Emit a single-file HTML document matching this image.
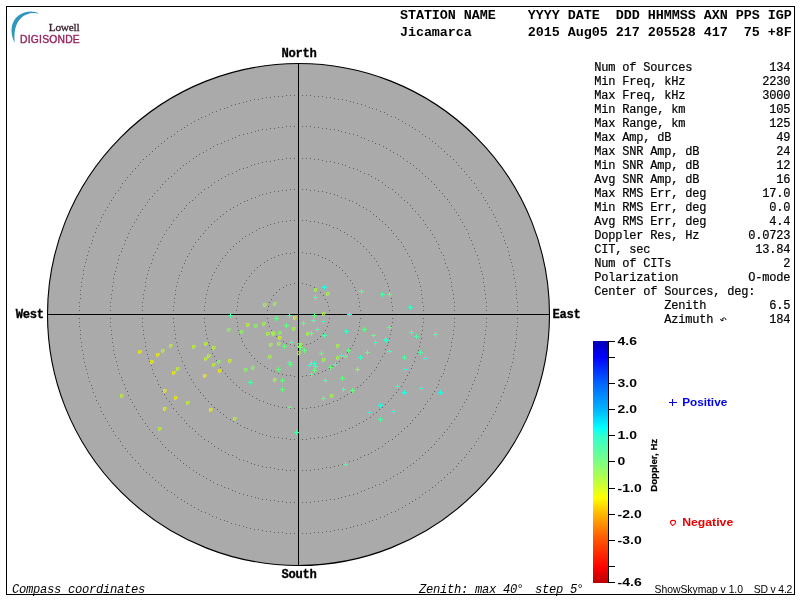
<!DOCTYPE html>
<html><head><meta charset="utf-8"><title>Skymap</title>
<style>
html,body{margin:0;padding:0;background:#fff;}
body{width:800px;height:600px;overflow:hidden;position:relative;}
svg{position:absolute;left:0;top:0;display:block;will-change:transform;}
text{white-space:pre;}
.hb{font-family:"Liberation Mono",monospace;font-weight:bold;font-size:13.4px;letter-spacing:-0.04px;fill:#000;}
.tb{font-family:"Liberation Mono",monospace;font-size:12px;letter-spacing:-0.2px;fill:#000;stroke:#000;stroke-width:0.2px;}
.cb{font-family:"Liberation Mono",monospace;font-weight:bold;font-size:12.2px;letter-spacing:-0.32px;fill:#000;stroke:#000;stroke-width:0.3px;}
.it{font-family:"Liberation Mono",monospace;font-style:italic;font-size:12.2px;letter-spacing:-0.32px;fill:#000;}
.sb{font-family:"Liberation Sans",sans-serif;font-weight:bold;font-size:11px;fill:#000;}
.lg{font-family:"Liberation Sans",sans-serif;font-weight:bold;font-size:10.1px;}
.sm{font-family:"Liberation Sans",sans-serif;font-size:10.4px;fill:#000;}
.dp{font-family:"Liberation Sans",sans-serif;font-weight:bold;font-size:9.1px;fill:#000;stroke:#000;stroke-width:0.25px;}
</style></head><body>
<svg width="800" height="600" viewBox="0 0 800 600">
<defs><linearGradient id="cbar" x1="0" y1="0" x2="0" y2="1">
<stop offset="0.0000" stop-color="#0000b4"/>
<stop offset="0.0652" stop-color="#0000fc"/>
<stop offset="0.1739" stop-color="#0064ff"/>
<stop offset="0.2826" stop-color="#00b4ff"/>
<stop offset="0.3587" stop-color="#00ffff"/>
<stop offset="0.3913" stop-color="#30ffd0"/>
<stop offset="0.5000" stop-color="#7cff82"/>
<stop offset="0.6087" stop-color="#d8ff28"/>
<stop offset="0.6467" stop-color="#ffff00"/>
<stop offset="0.7174" stop-color="#ffb400"/>
<stop offset="0.8261" stop-color="#ff5000"/>
<stop offset="0.9348" stop-color="#ff0000"/>
<stop offset="1.0000" stop-color="#bc0000"/>
</linearGradient></defs>
<rect x="6.5" y="6.5" width="788" height="588" fill="#fff" stroke="#000" stroke-width="1" shape-rendering="crispEdges"/>
<circle cx="298.5" cy="314.5" r="251" fill="#aaaaaa" stroke="#000" stroke-width="1.1"/>
<path d="M329 314h1v1h-1zM329 310h1v1h-1zM328 306h1v1h-1zM327 302h1v1h-1zM325 299h1v1h-1zM323 295h1v1h-1zM320 292h1v1h-1zM317 289h1v1h-1zM314 287h1v1h-1zM310 285h1v1h-1zM306 284h1v1h-1zM302 283h1v1h-1zM298 283h1v1h-1zM294 283h1v1h-1zM290 284h1v1h-1zM286 285h1v1h-1zM283 287h1v1h-1zM279 289h1v1h-1zM276 292h1v1h-1zM273 295h1v1h-1zM271 299h1v1h-1zM269 302h1v1h-1zM268 306h1v1h-1zM267 310h1v1h-1zM267 314h1v1h-1zM267 318h1v1h-1zM268 322h1v1h-1zM269 326h1v1h-1zM271 330h1v1h-1zM273 333h1v1h-1zM276 336h1v1h-1zM279 339h1v1h-1zM283 341h1v1h-1zM286 343h1v1h-1zM290 344h1v1h-1zM294 345h1v1h-1zM298 345h1v1h-1zM302 345h1v1h-1zM306 344h1v1h-1zM310 343h1v1h-1zM314 341h1v1h-1zM317 339h1v1h-1zM320 336h1v1h-1zM323 333h1v1h-1zM325 330h1v1h-1zM327 326h1v1h-1zM328 322h1v1h-1zM329 318h1v1h-1z" fill="#606060" shape-rendering="crispEdges"/>
<path d="M360 314h1v1h-1zM360 310h1v1h-1zM359 306h1v1h-1zM359 302h1v1h-1zM358 298h1v1h-1zM357 294h1v1h-1zM355 290h1v1h-1zM354 287h1v1h-1zM352 283h1v1h-1zM350 280h1v1h-1zM347 276h1v1h-1zM345 273h1v1h-1zM342 270h1v1h-1zM339 267h1v1h-1zM336 265h1v1h-1zM332 262h1v1h-1zM329 260h1v1h-1zM325 258h1v1h-1zM322 257h1v1h-1zM318 255h1v1h-1zM314 254h1v1h-1zM310 253h1v1h-1zM306 253h1v1h-1zM302 252h1v1h-1zM298 252h1v1h-1zM294 252h1v1h-1zM290 253h1v1h-1zM286 253h1v1h-1zM282 254h1v1h-1zM278 255h1v1h-1zM274 257h1v1h-1zM271 258h1v1h-1zM267 260h1v1h-1zM264 262h1v1h-1zM260 265h1v1h-1zM257 267h1v1h-1zM254 270h1v1h-1zM251 273h1v1h-1zM249 276h1v1h-1zM246 280h1v1h-1zM244 283h1v1h-1zM242 287h1v1h-1zM241 290h1v1h-1zM239 294h1v1h-1zM238 298h1v1h-1zM237 302h1v1h-1zM237 306h1v1h-1zM236 310h1v1h-1zM236 314h1v1h-1zM236 318h1v1h-1zM237 322h1v1h-1zM237 326h1v1h-1zM238 330h1v1h-1zM239 334h1v1h-1zM241 338h1v1h-1zM242 341h1v1h-1zM244 345h1v1h-1zM246 348h1v1h-1zM249 352h1v1h-1zM251 355h1v1h-1zM254 358h1v1h-1zM257 361h1v1h-1zM260 363h1v1h-1zM264 366h1v1h-1zM267 368h1v1h-1zM271 370h1v1h-1zM274 371h1v1h-1zM278 373h1v1h-1zM282 374h1v1h-1zM286 375h1v1h-1zM290 375h1v1h-1zM294 376h1v1h-1zM298 376h1v1h-1zM302 376h1v1h-1zM306 375h1v1h-1zM310 375h1v1h-1zM314 374h1v1h-1zM318 373h1v1h-1zM322 371h1v1h-1zM325 370h1v1h-1zM329 368h1v1h-1zM332 366h1v1h-1zM336 363h1v1h-1zM339 361h1v1h-1zM342 358h1v1h-1zM345 355h1v1h-1zM347 352h1v1h-1zM350 348h1v1h-1zM352 345h1v1h-1zM354 341h1v1h-1zM355 338h1v1h-1zM357 334h1v1h-1zM358 330h1v1h-1zM359 326h1v1h-1zM359 322h1v1h-1zM360 318h1v1h-1z" fill="#606060" shape-rendering="crispEdges"/>
<path d="M392 314h1v1h-1zM392 310h1v1h-1zM392 306h1v1h-1zM391 302h1v1h-1zM391 298h1v1h-1zM390 294h1v1h-1zM389 290h1v1h-1zM388 286h1v1h-1zM387 283h1v1h-1zM385 279h1v1h-1zM384 275h1v1h-1zM382 272h1v1h-1zM380 268h1v1h-1zM378 265h1v1h-1zM376 261h1v1h-1zM374 258h1v1h-1zM371 255h1v1h-1zM369 252h1v1h-1zM366 249h1v1h-1zM363 246h1v1h-1zM360 243h1v1h-1zM357 241h1v1h-1zM354 238h1v1h-1zM351 236h1v1h-1zM347 234h1v1h-1zM344 232h1v1h-1zM340 230h1v1h-1zM337 228h1v1h-1zM333 227h1v1h-1zM329 225h1v1h-1zM326 224h1v1h-1zM322 223h1v1h-1zM318 222h1v1h-1zM314 221h1v1h-1zM310 221h1v1h-1zM306 220h1v1h-1zM302 220h1v1h-1zM298 220h1v1h-1zM294 220h1v1h-1zM290 220h1v1h-1zM286 221h1v1h-1zM282 221h1v1h-1zM278 222h1v1h-1zM274 223h1v1h-1zM270 224h1v1h-1zM267 225h1v1h-1zM263 227h1v1h-1zM259 228h1v1h-1zM256 230h1v1h-1zM252 232h1v1h-1zM249 234h1v1h-1zM245 236h1v1h-1zM242 238h1v1h-1zM239 241h1v1h-1zM236 243h1v1h-1zM233 246h1v1h-1zM230 249h1v1h-1zM227 252h1v1h-1zM225 255h1v1h-1zM222 258h1v1h-1zM220 261h1v1h-1zM218 265h1v1h-1zM216 268h1v1h-1zM214 272h1v1h-1zM212 275h1v1h-1zM211 279h1v1h-1zM209 283h1v1h-1zM208 286h1v1h-1zM207 290h1v1h-1zM206 294h1v1h-1zM205 298h1v1h-1zM205 302h1v1h-1zM204 306h1v1h-1zM204 310h1v1h-1zM204 314h1v1h-1zM204 318h1v1h-1zM204 322h1v1h-1zM205 326h1v1h-1zM205 330h1v1h-1zM206 334h1v1h-1zM207 338h1v1h-1zM208 342h1v1h-1zM209 345h1v1h-1zM211 349h1v1h-1zM212 353h1v1h-1zM214 356h1v1h-1zM216 360h1v1h-1zM218 363h1v1h-1zM220 367h1v1h-1zM222 370h1v1h-1zM225 373h1v1h-1zM227 376h1v1h-1zM230 379h1v1h-1zM233 382h1v1h-1zM236 385h1v1h-1zM239 387h1v1h-1zM242 390h1v1h-1zM245 392h1v1h-1zM249 394h1v1h-1zM252 396h1v1h-1zM256 398h1v1h-1zM259 400h1v1h-1zM263 401h1v1h-1zM267 403h1v1h-1zM270 404h1v1h-1zM274 405h1v1h-1zM278 406h1v1h-1zM282 407h1v1h-1zM286 407h1v1h-1zM290 408h1v1h-1zM294 408h1v1h-1zM298 408h1v1h-1zM302 408h1v1h-1zM306 408h1v1h-1zM310 407h1v1h-1zM314 407h1v1h-1zM318 406h1v1h-1zM322 405h1v1h-1zM326 404h1v1h-1zM329 403h1v1h-1zM333 401h1v1h-1zM337 400h1v1h-1zM340 398h1v1h-1zM344 396h1v1h-1zM347 394h1v1h-1zM351 392h1v1h-1zM354 390h1v1h-1zM357 387h1v1h-1zM360 385h1v1h-1zM363 382h1v1h-1zM366 379h1v1h-1zM369 376h1v1h-1zM371 373h1v1h-1zM374 370h1v1h-1zM376 367h1v1h-1zM378 363h1v1h-1zM380 360h1v1h-1zM382 356h1v1h-1zM384 353h1v1h-1zM385 349h1v1h-1zM387 345h1v1h-1zM388 342h1v1h-1zM389 338h1v1h-1zM390 334h1v1h-1zM391 330h1v1h-1zM391 326h1v1h-1zM392 322h1v1h-1zM392 318h1v1h-1z" fill="#606060" shape-rendering="crispEdges"/>
<path d="M423 314h1v1h-1zM423 310h1v1h-1zM423 306h1v1h-1zM422 302h1v1h-1zM422 298h1v1h-1zM421 294h1v1h-1zM421 290h1v1h-1zM420 286h1v1h-1zM419 282h1v1h-1zM418 278h1v1h-1zM417 275h1v1h-1zM415 271h1v1h-1zM414 267h1v1h-1zM412 263h1v1h-1zM411 260h1v1h-1zM409 256h1v1h-1zM407 253h1v1h-1zM405 249h1v1h-1zM403 246h1v1h-1zM401 242h1v1h-1zM398 239h1v1h-1zM396 236h1v1h-1zM393 233h1v1h-1zM391 230h1v1h-1zM388 227h1v1h-1zM385 224h1v1h-1zM382 221h1v1h-1zM379 219h1v1h-1zM376 216h1v1h-1zM373 214h1v1h-1zM370 211h1v1h-1zM366 209h1v1h-1zM363 207h1v1h-1zM359 205h1v1h-1zM356 203h1v1h-1zM352 201h1v1h-1zM349 200h1v1h-1zM345 198h1v1h-1zM341 197h1v1h-1zM337 195h1v1h-1zM334 194h1v1h-1zM330 193h1v1h-1zM326 192h1v1h-1zM322 191h1v1h-1zM318 191h1v1h-1zM314 190h1v1h-1zM310 190h1v1h-1zM306 189h1v1h-1zM302 189h1v1h-1zM298 189h1v1h-1zM294 189h1v1h-1zM290 189h1v1h-1zM286 190h1v1h-1zM282 190h1v1h-1zM278 191h1v1h-1zM274 191h1v1h-1zM270 192h1v1h-1zM266 193h1v1h-1zM262 194h1v1h-1zM259 195h1v1h-1zM255 197h1v1h-1zM251 198h1v1h-1zM247 200h1v1h-1zM244 201h1v1h-1zM240 203h1v1h-1zM237 205h1v1h-1zM233 207h1v1h-1zM230 209h1v1h-1zM226 211h1v1h-1zM223 214h1v1h-1zM220 216h1v1h-1zM217 219h1v1h-1zM214 221h1v1h-1zM211 224h1v1h-1zM208 227h1v1h-1zM205 230h1v1h-1zM203 233h1v1h-1zM200 236h1v1h-1zM198 239h1v1h-1zM195 242h1v1h-1zM193 246h1v1h-1zM191 249h1v1h-1zM189 253h1v1h-1zM187 256h1v1h-1zM185 260h1v1h-1zM184 263h1v1h-1zM182 267h1v1h-1zM181 271h1v1h-1zM179 275h1v1h-1zM178 278h1v1h-1zM177 282h1v1h-1zM176 286h1v1h-1zM175 290h1v1h-1zM175 294h1v1h-1zM174 298h1v1h-1zM174 302h1v1h-1zM173 306h1v1h-1zM173 310h1v1h-1zM173 314h1v1h-1zM173 318h1v1h-1zM173 322h1v1h-1zM174 326h1v1h-1zM174 330h1v1h-1zM175 334h1v1h-1zM175 338h1v1h-1zM176 342h1v1h-1zM177 346h1v1h-1zM178 350h1v1h-1zM179 353h1v1h-1zM181 357h1v1h-1zM182 361h1v1h-1zM184 365h1v1h-1zM185 368h1v1h-1zM187 372h1v1h-1zM189 375h1v1h-1zM191 379h1v1h-1zM193 382h1v1h-1zM195 386h1v1h-1zM198 389h1v1h-1zM200 392h1v1h-1zM203 395h1v1h-1zM205 398h1v1h-1zM208 401h1v1h-1zM211 404h1v1h-1zM214 407h1v1h-1zM217 409h1v1h-1zM220 412h1v1h-1zM223 414h1v1h-1zM226 417h1v1h-1zM230 419h1v1h-1zM233 421h1v1h-1zM237 423h1v1h-1zM240 425h1v1h-1zM244 427h1v1h-1zM247 428h1v1h-1zM251 430h1v1h-1zM255 431h1v1h-1zM259 433h1v1h-1zM262 434h1v1h-1zM266 435h1v1h-1zM270 436h1v1h-1zM274 437h1v1h-1zM278 437h1v1h-1zM282 438h1v1h-1zM286 438h1v1h-1zM290 439h1v1h-1zM294 439h1v1h-1zM298 439h1v1h-1zM302 439h1v1h-1zM306 439h1v1h-1zM310 438h1v1h-1zM314 438h1v1h-1zM318 437h1v1h-1zM322 437h1v1h-1zM326 436h1v1h-1zM330 435h1v1h-1zM334 434h1v1h-1zM337 433h1v1h-1zM341 431h1v1h-1zM345 430h1v1h-1zM349 428h1v1h-1zM352 427h1v1h-1zM356 425h1v1h-1zM359 423h1v1h-1zM363 421h1v1h-1zM366 419h1v1h-1zM370 417h1v1h-1zM373 414h1v1h-1zM376 412h1v1h-1zM379 409h1v1h-1zM382 407h1v1h-1zM385 404h1v1h-1zM388 401h1v1h-1zM391 398h1v1h-1zM393 395h1v1h-1zM396 392h1v1h-1zM398 389h1v1h-1zM401 386h1v1h-1zM403 382h1v1h-1zM405 379h1v1h-1zM407 375h1v1h-1zM409 372h1v1h-1zM411 368h1v1h-1zM412 365h1v1h-1zM414 361h1v1h-1zM415 357h1v1h-1zM417 353h1v1h-1zM418 350h1v1h-1zM419 346h1v1h-1zM420 342h1v1h-1zM421 338h1v1h-1zM421 334h1v1h-1zM422 330h1v1h-1zM422 326h1v1h-1zM423 322h1v1h-1zM423 318h1v1h-1z" fill="#606060" shape-rendering="crispEdges"/>
<path d="M454 314h1v1h-1zM454 310h1v1h-1zM454 306h1v1h-1zM454 302h1v1h-1zM453 298h1v1h-1zM453 294h1v1h-1zM452 290h1v1h-1zM451 286h1v1h-1zM451 282h1v1h-1zM450 278h1v1h-1zM449 274h1v1h-1zM448 270h1v1h-1zM447 267h1v1h-1zM445 263h1v1h-1zM444 259h1v1h-1zM443 255h1v1h-1zM441 252h1v1h-1zM439 248h1v1h-1zM438 244h1v1h-1zM436 241h1v1h-1zM434 237h1v1h-1zM432 234h1v1h-1zM430 230h1v1h-1zM427 227h1v1h-1zM425 224h1v1h-1zM423 220h1v1h-1zM420 217h1v1h-1zM418 214h1v1h-1zM415 211h1v1h-1zM412 208h1v1h-1zM410 205h1v1h-1zM407 202h1v1h-1zM404 200h1v1h-1zM401 197h1v1h-1zM398 194h1v1h-1zM395 192h1v1h-1zM392 189h1v1h-1zM388 187h1v1h-1zM385 185h1v1h-1zM382 182h1v1h-1zM378 180h1v1h-1zM375 178h1v1h-1zM371 176h1v1h-1zM368 174h1v1h-1zM364 173h1v1h-1zM360 171h1v1h-1zM357 169h1v1h-1zM353 168h1v1h-1zM349 167h1v1h-1zM345 165h1v1h-1zM342 164h1v1h-1zM338 163h1v1h-1zM334 162h1v1h-1zM330 161h1v1h-1zM326 161h1v1h-1zM322 160h1v1h-1zM318 159h1v1h-1zM314 159h1v1h-1zM310 158h1v1h-1zM306 158h1v1h-1zM302 158h1v1h-1zM298 158h1v1h-1zM294 158h1v1h-1zM290 158h1v1h-1zM286 158h1v1h-1zM282 159h1v1h-1zM278 159h1v1h-1zM274 160h1v1h-1zM270 161h1v1h-1zM266 161h1v1h-1zM262 162h1v1h-1zM258 163h1v1h-1zM254 164h1v1h-1zM251 165h1v1h-1zM247 167h1v1h-1zM243 168h1v1h-1zM239 169h1v1h-1zM236 171h1v1h-1zM232 173h1v1h-1zM228 174h1v1h-1zM225 176h1v1h-1zM221 178h1v1h-1zM218 180h1v1h-1zM214 182h1v1h-1zM211 185h1v1h-1zM208 187h1v1h-1zM204 189h1v1h-1zM201 192h1v1h-1zM198 194h1v1h-1zM195 197h1v1h-1zM192 200h1v1h-1zM189 202h1v1h-1zM186 205h1v1h-1zM184 208h1v1h-1zM181 211h1v1h-1zM178 214h1v1h-1zM176 217h1v1h-1zM173 220h1v1h-1zM171 224h1v1h-1zM169 227h1v1h-1zM166 230h1v1h-1zM164 234h1v1h-1zM162 237h1v1h-1zM160 241h1v1h-1zM158 244h1v1h-1zM157 248h1v1h-1zM155 252h1v1h-1zM153 255h1v1h-1zM152 259h1v1h-1zM151 263h1v1h-1zM149 267h1v1h-1zM148 270h1v1h-1zM147 274h1v1h-1zM146 278h1v1h-1zM145 282h1v1h-1zM145 286h1v1h-1zM144 290h1v1h-1zM143 294h1v1h-1zM143 298h1v1h-1zM142 302h1v1h-1zM142 306h1v1h-1zM142 310h1v1h-1zM142 314h1v1h-1zM142 318h1v1h-1zM142 322h1v1h-1zM142 326h1v1h-1zM143 330h1v1h-1zM143 334h1v1h-1zM144 338h1v1h-1zM145 342h1v1h-1zM145 346h1v1h-1zM146 350h1v1h-1zM147 354h1v1h-1zM148 358h1v1h-1zM149 361h1v1h-1zM151 365h1v1h-1zM152 369h1v1h-1zM153 373h1v1h-1zM155 376h1v1h-1zM157 380h1v1h-1zM158 384h1v1h-1zM160 387h1v1h-1zM162 391h1v1h-1zM164 394h1v1h-1zM166 398h1v1h-1zM169 401h1v1h-1zM171 404h1v1h-1zM173 408h1v1h-1zM176 411h1v1h-1zM178 414h1v1h-1zM181 417h1v1h-1zM184 420h1v1h-1zM186 423h1v1h-1zM189 426h1v1h-1zM192 428h1v1h-1zM195 431h1v1h-1zM198 434h1v1h-1zM201 436h1v1h-1zM204 439h1v1h-1zM208 441h1v1h-1zM211 443h1v1h-1zM214 446h1v1h-1zM218 448h1v1h-1zM221 450h1v1h-1zM225 452h1v1h-1zM228 454h1v1h-1zM232 455h1v1h-1zM236 457h1v1h-1zM239 459h1v1h-1zM243 460h1v1h-1zM247 461h1v1h-1zM251 463h1v1h-1zM254 464h1v1h-1zM258 465h1v1h-1zM262 466h1v1h-1zM266 467h1v1h-1zM270 467h1v1h-1zM274 468h1v1h-1zM278 469h1v1h-1zM282 469h1v1h-1zM286 470h1v1h-1zM290 470h1v1h-1zM294 470h1v1h-1zM298 470h1v1h-1zM302 470h1v1h-1zM306 470h1v1h-1zM310 470h1v1h-1zM314 469h1v1h-1zM318 469h1v1h-1zM322 468h1v1h-1zM326 467h1v1h-1zM330 467h1v1h-1zM334 466h1v1h-1zM338 465h1v1h-1zM342 464h1v1h-1zM345 463h1v1h-1zM349 461h1v1h-1zM353 460h1v1h-1zM357 459h1v1h-1zM360 457h1v1h-1zM364 455h1v1h-1zM368 454h1v1h-1zM371 452h1v1h-1zM375 450h1v1h-1zM378 448h1v1h-1zM382 446h1v1h-1zM385 443h1v1h-1zM388 441h1v1h-1zM392 439h1v1h-1zM395 436h1v1h-1zM398 434h1v1h-1zM401 431h1v1h-1zM404 428h1v1h-1zM407 426h1v1h-1zM410 423h1v1h-1zM412 420h1v1h-1zM415 417h1v1h-1zM418 414h1v1h-1zM420 411h1v1h-1zM423 408h1v1h-1zM425 404h1v1h-1zM427 401h1v1h-1zM430 398h1v1h-1zM432 394h1v1h-1zM434 391h1v1h-1zM436 387h1v1h-1zM438 384h1v1h-1zM439 380h1v1h-1zM441 376h1v1h-1zM443 373h1v1h-1zM444 369h1v1h-1zM445 365h1v1h-1zM447 361h1v1h-1zM448 358h1v1h-1zM449 354h1v1h-1zM450 350h1v1h-1zM451 346h1v1h-1zM451 342h1v1h-1zM452 338h1v1h-1zM453 334h1v1h-1zM453 330h1v1h-1zM454 326h1v1h-1zM454 322h1v1h-1zM454 318h1v1h-1z" fill="#606060" shape-rendering="crispEdges"/>
<path d="M486 314h1v1h-1zM486 310h1v1h-1zM486 306h1v1h-1zM486 302h1v1h-1zM485 298h1v1h-1zM485 294h1v1h-1zM484 290h1v1h-1zM484 286h1v1h-1zM483 282h1v1h-1zM483 278h1v1h-1zM482 274h1v1h-1zM481 271h1v1h-1zM480 267h1v1h-1zM479 263h1v1h-1zM478 259h1v1h-1zM477 255h1v1h-1zM475 251h1v1h-1zM474 248h1v1h-1zM472 244h1v1h-1zM471 240h1v1h-1zM469 237h1v1h-1zM468 233h1v1h-1zM466 229h1v1h-1zM464 226h1v1h-1zM462 222h1v1h-1zM460 219h1v1h-1zM458 215h1v1h-1zM456 212h1v1h-1zM454 209h1v1h-1zM451 205h1v1h-1zM449 202h1v1h-1zM447 199h1v1h-1zM444 196h1v1h-1zM442 193h1v1h-1zM439 190h1v1h-1zM436 187h1v1h-1zM434 184h1v1h-1zM431 181h1v1h-1zM428 178h1v1h-1zM425 176h1v1h-1zM422 173h1v1h-1zM419 170h1v1h-1zM416 168h1v1h-1zM413 165h1v1h-1zM410 163h1v1h-1zM407 161h1v1h-1zM403 158h1v1h-1zM400 156h1v1h-1zM397 154h1v1h-1zM393 152h1v1h-1zM390 150h1v1h-1zM386 148h1v1h-1zM383 146h1v1h-1zM379 144h1v1h-1zM375 143h1v1h-1zM372 141h1v1h-1zM368 140h1v1h-1zM364 138h1v1h-1zM361 137h1v1h-1zM357 135h1v1h-1zM353 134h1v1h-1zM349 133h1v1h-1zM345 132h1v1h-1zM341 131h1v1h-1zM338 130h1v1h-1zM334 129h1v1h-1zM330 129h1v1h-1zM326 128h1v1h-1zM322 128h1v1h-1zM318 127h1v1h-1zM314 127h1v1h-1zM310 126h1v1h-1zM306 126h1v1h-1zM302 126h1v1h-1zM298 126h1v1h-1zM294 126h1v1h-1zM290 126h1v1h-1zM286 126h1v1h-1zM282 127h1v1h-1zM278 127h1v1h-1zM274 128h1v1h-1zM270 128h1v1h-1zM266 129h1v1h-1zM262 129h1v1h-1zM258 130h1v1h-1zM255 131h1v1h-1zM251 132h1v1h-1zM247 133h1v1h-1zM243 134h1v1h-1zM239 135h1v1h-1zM235 137h1v1h-1zM232 138h1v1h-1zM228 140h1v1h-1zM224 141h1v1h-1zM221 143h1v1h-1zM217 144h1v1h-1zM213 146h1v1h-1zM210 148h1v1h-1zM206 150h1v1h-1zM203 152h1v1h-1zM199 154h1v1h-1zM196 156h1v1h-1zM193 158h1v1h-1zM189 161h1v1h-1zM186 163h1v1h-1zM183 165h1v1h-1zM180 168h1v1h-1zM177 170h1v1h-1zM174 173h1v1h-1zM171 176h1v1h-1zM168 178h1v1h-1zM165 181h1v1h-1zM162 184h1v1h-1zM160 187h1v1h-1zM157 190h1v1h-1zM154 193h1v1h-1zM152 196h1v1h-1zM149 199h1v1h-1zM147 202h1v1h-1zM145 205h1v1h-1zM142 209h1v1h-1zM140 212h1v1h-1zM138 215h1v1h-1zM136 219h1v1h-1zM134 222h1v1h-1zM132 226h1v1h-1zM130 229h1v1h-1zM128 233h1v1h-1zM127 237h1v1h-1zM125 240h1v1h-1zM124 244h1v1h-1zM122 248h1v1h-1zM121 251h1v1h-1zM119 255h1v1h-1zM118 259h1v1h-1zM117 263h1v1h-1zM116 267h1v1h-1zM115 271h1v1h-1zM114 274h1v1h-1zM113 278h1v1h-1zM113 282h1v1h-1zM112 286h1v1h-1zM112 290h1v1h-1zM111 294h1v1h-1zM111 298h1v1h-1zM110 302h1v1h-1zM110 306h1v1h-1zM110 310h1v1h-1zM110 314h1v1h-1zM110 318h1v1h-1zM110 322h1v1h-1zM110 326h1v1h-1zM111 330h1v1h-1zM111 334h1v1h-1zM112 338h1v1h-1zM112 342h1v1h-1zM113 346h1v1h-1zM113 350h1v1h-1zM114 354h1v1h-1zM115 357h1v1h-1zM116 361h1v1h-1zM117 365h1v1h-1zM118 369h1v1h-1zM119 373h1v1h-1zM121 377h1v1h-1zM122 380h1v1h-1zM124 384h1v1h-1zM125 388h1v1h-1zM127 391h1v1h-1zM128 395h1v1h-1zM130 399h1v1h-1zM132 402h1v1h-1zM134 406h1v1h-1zM136 409h1v1h-1zM138 413h1v1h-1zM140 416h1v1h-1zM142 419h1v1h-1zM145 423h1v1h-1zM147 426h1v1h-1zM149 429h1v1h-1zM152 432h1v1h-1zM154 435h1v1h-1zM157 438h1v1h-1zM160 441h1v1h-1zM162 444h1v1h-1zM165 447h1v1h-1zM168 450h1v1h-1zM171 452h1v1h-1zM174 455h1v1h-1zM177 458h1v1h-1zM180 460h1v1h-1zM183 463h1v1h-1zM186 465h1v1h-1zM189 467h1v1h-1zM193 470h1v1h-1zM196 472h1v1h-1zM199 474h1v1h-1zM203 476h1v1h-1zM206 478h1v1h-1zM210 480h1v1h-1zM213 482h1v1h-1zM217 484h1v1h-1zM221 485h1v1h-1zM224 487h1v1h-1zM228 488h1v1h-1zM232 490h1v1h-1zM235 491h1v1h-1zM239 493h1v1h-1zM243 494h1v1h-1zM247 495h1v1h-1zM251 496h1v1h-1zM255 497h1v1h-1zM258 498h1v1h-1zM262 499h1v1h-1zM266 499h1v1h-1zM270 500h1v1h-1zM274 500h1v1h-1zM278 501h1v1h-1zM282 501h1v1h-1zM286 502h1v1h-1zM290 502h1v1h-1zM294 502h1v1h-1zM298 502h1v1h-1zM302 502h1v1h-1zM306 502h1v1h-1zM310 502h1v1h-1zM314 501h1v1h-1zM318 501h1v1h-1zM322 500h1v1h-1zM326 500h1v1h-1zM330 499h1v1h-1zM334 499h1v1h-1zM338 498h1v1h-1zM341 497h1v1h-1zM345 496h1v1h-1zM349 495h1v1h-1zM353 494h1v1h-1zM357 493h1v1h-1zM361 491h1v1h-1zM364 490h1v1h-1zM368 488h1v1h-1zM372 487h1v1h-1zM375 485h1v1h-1zM379 484h1v1h-1zM383 482h1v1h-1zM386 480h1v1h-1zM390 478h1v1h-1zM393 476h1v1h-1zM397 474h1v1h-1zM400 472h1v1h-1zM403 470h1v1h-1zM407 467h1v1h-1zM410 465h1v1h-1zM413 463h1v1h-1zM416 460h1v1h-1zM419 458h1v1h-1zM422 455h1v1h-1zM425 452h1v1h-1zM428 450h1v1h-1zM431 447h1v1h-1zM434 444h1v1h-1zM436 441h1v1h-1zM439 438h1v1h-1zM442 435h1v1h-1zM444 432h1v1h-1zM447 429h1v1h-1zM449 426h1v1h-1zM451 423h1v1h-1zM454 419h1v1h-1zM456 416h1v1h-1zM458 413h1v1h-1zM460 409h1v1h-1zM462 406h1v1h-1zM464 402h1v1h-1zM466 399h1v1h-1zM468 395h1v1h-1zM469 391h1v1h-1zM471 388h1v1h-1zM472 384h1v1h-1zM474 380h1v1h-1zM475 377h1v1h-1zM477 373h1v1h-1zM478 369h1v1h-1zM479 365h1v1h-1zM480 361h1v1h-1zM481 357h1v1h-1zM482 354h1v1h-1zM483 350h1v1h-1zM483 346h1v1h-1zM484 342h1v1h-1zM484 338h1v1h-1zM485 334h1v1h-1zM485 330h1v1h-1zM486 326h1v1h-1zM486 322h1v1h-1zM486 318h1v1h-1z" fill="#606060" shape-rendering="crispEdges"/>
<path d="M517 314h1v1h-1zM517 310h1v1h-1zM517 306h1v1h-1zM517 302h1v1h-1zM516 298h1v1h-1zM516 294h1v1h-1zM516 290h1v1h-1zM515 286h1v1h-1zM515 282h1v1h-1zM514 278h1v1h-1zM513 274h1v1h-1zM513 270h1v1h-1zM512 266h1v1h-1zM511 262h1v1h-1zM510 259h1v1h-1zM509 255h1v1h-1zM508 251h1v1h-1zM507 247h1v1h-1zM505 243h1v1h-1zM504 240h1v1h-1zM503 236h1v1h-1zM501 232h1v1h-1zM500 228h1v1h-1zM498 225h1v1h-1zM496 221h1v1h-1zM495 217h1v1h-1zM493 214h1v1h-1zM491 210h1v1h-1zM489 207h1v1h-1zM487 203h1v1h-1zM485 200h1v1h-1zM483 197h1v1h-1zM481 193h1v1h-1zM478 190h1v1h-1zM476 187h1v1h-1zM474 183h1v1h-1zM471 180h1v1h-1zM469 177h1v1h-1zM466 174h1v1h-1zM464 171h1v1h-1zM461 168h1v1h-1zM458 165h1v1h-1zM456 162h1v1h-1zM453 159h1v1h-1zM450 156h1v1h-1zM447 154h1v1h-1zM444 151h1v1h-1zM441 148h1v1h-1zM438 146h1v1h-1zM435 143h1v1h-1zM432 141h1v1h-1zM429 138h1v1h-1zM425 136h1v1h-1zM422 134h1v1h-1zM419 131h1v1h-1zM415 129h1v1h-1zM412 127h1v1h-1zM409 125h1v1h-1zM405 123h1v1h-1zM402 121h1v1h-1zM398 119h1v1h-1zM395 117h1v1h-1zM391 116h1v1h-1zM387 114h1v1h-1zM384 112h1v1h-1zM380 111h1v1h-1zM376 109h1v1h-1zM372 108h1v1h-1zM369 107h1v1h-1zM365 105h1v1h-1zM361 104h1v1h-1zM357 103h1v1h-1zM353 102h1v1h-1zM350 101h1v1h-1zM346 100h1v1h-1zM342 99h1v1h-1zM338 99h1v1h-1zM334 98h1v1h-1zM330 97h1v1h-1zM326 97h1v1h-1zM322 96h1v1h-1zM318 96h1v1h-1zM314 96h1v1h-1zM310 95h1v1h-1zM306 95h1v1h-1zM302 95h1v1h-1zM298 95h1v1h-1zM294 95h1v1h-1zM290 95h1v1h-1zM286 95h1v1h-1zM282 96h1v1h-1zM278 96h1v1h-1zM274 96h1v1h-1zM270 97h1v1h-1zM266 97h1v1h-1zM262 98h1v1h-1zM258 99h1v1h-1zM254 99h1v1h-1zM250 100h1v1h-1zM246 101h1v1h-1zM243 102h1v1h-1zM239 103h1v1h-1zM235 104h1v1h-1zM231 105h1v1h-1zM227 107h1v1h-1zM224 108h1v1h-1zM220 109h1v1h-1zM216 111h1v1h-1zM212 112h1v1h-1zM209 114h1v1h-1zM205 116h1v1h-1zM201 117h1v1h-1zM198 119h1v1h-1zM194 121h1v1h-1zM191 123h1v1h-1zM187 125h1v1h-1zM184 127h1v1h-1zM181 129h1v1h-1zM177 131h1v1h-1zM174 134h1v1h-1zM171 136h1v1h-1zM167 138h1v1h-1zM164 141h1v1h-1zM161 143h1v1h-1zM158 146h1v1h-1zM155 148h1v1h-1zM152 151h1v1h-1zM149 154h1v1h-1zM146 156h1v1h-1zM143 159h1v1h-1zM140 162h1v1h-1zM138 165h1v1h-1zM135 168h1v1h-1zM132 171h1v1h-1zM130 174h1v1h-1zM127 177h1v1h-1zM125 180h1v1h-1zM122 183h1v1h-1zM120 187h1v1h-1zM118 190h1v1h-1zM115 193h1v1h-1zM113 197h1v1h-1zM111 200h1v1h-1zM109 203h1v1h-1zM107 207h1v1h-1zM105 210h1v1h-1zM103 214h1v1h-1zM101 217h1v1h-1zM100 221h1v1h-1zM98 225h1v1h-1zM96 228h1v1h-1zM95 232h1v1h-1zM93 236h1v1h-1zM92 240h1v1h-1zM91 243h1v1h-1zM89 247h1v1h-1zM88 251h1v1h-1zM87 255h1v1h-1zM86 259h1v1h-1zM85 262h1v1h-1zM84 266h1v1h-1zM83 270h1v1h-1zM83 274h1v1h-1zM82 278h1v1h-1zM81 282h1v1h-1zM81 286h1v1h-1zM80 290h1v1h-1zM80 294h1v1h-1zM80 298h1v1h-1zM79 302h1v1h-1zM79 306h1v1h-1zM79 310h1v1h-1zM79 314h1v1h-1zM79 318h1v1h-1zM79 322h1v1h-1zM79 326h1v1h-1zM80 330h1v1h-1zM80 334h1v1h-1zM80 338h1v1h-1zM81 342h1v1h-1zM81 346h1v1h-1zM82 350h1v1h-1zM83 354h1v1h-1zM83 358h1v1h-1zM84 362h1v1h-1zM85 366h1v1h-1zM86 369h1v1h-1zM87 373h1v1h-1zM88 377h1v1h-1zM89 381h1v1h-1zM91 385h1v1h-1zM92 388h1v1h-1zM93 392h1v1h-1zM95 396h1v1h-1zM96 400h1v1h-1zM98 403h1v1h-1zM100 407h1v1h-1zM101 411h1v1h-1zM103 414h1v1h-1zM105 418h1v1h-1zM107 421h1v1h-1zM109 425h1v1h-1zM111 428h1v1h-1zM113 431h1v1h-1zM115 435h1v1h-1zM118 438h1v1h-1zM120 441h1v1h-1zM122 445h1v1h-1zM125 448h1v1h-1zM127 451h1v1h-1zM130 454h1v1h-1zM132 457h1v1h-1zM135 460h1v1h-1zM138 463h1v1h-1zM140 466h1v1h-1zM143 469h1v1h-1zM146 472h1v1h-1zM149 474h1v1h-1zM152 477h1v1h-1zM155 480h1v1h-1zM158 482h1v1h-1zM161 485h1v1h-1zM164 487h1v1h-1zM167 490h1v1h-1zM171 492h1v1h-1zM174 494h1v1h-1zM177 497h1v1h-1zM181 499h1v1h-1zM184 501h1v1h-1zM187 503h1v1h-1zM191 505h1v1h-1zM194 507h1v1h-1zM198 509h1v1h-1zM201 511h1v1h-1zM205 512h1v1h-1zM209 514h1v1h-1zM212 516h1v1h-1zM216 517h1v1h-1zM220 519h1v1h-1zM224 520h1v1h-1zM227 521h1v1h-1zM231 523h1v1h-1zM235 524h1v1h-1zM239 525h1v1h-1zM243 526h1v1h-1zM246 527h1v1h-1zM250 528h1v1h-1zM254 529h1v1h-1zM258 529h1v1h-1zM262 530h1v1h-1zM266 531h1v1h-1zM270 531h1v1h-1zM274 532h1v1h-1zM278 532h1v1h-1zM282 532h1v1h-1zM286 533h1v1h-1zM290 533h1v1h-1zM294 533h1v1h-1zM298 533h1v1h-1zM302 533h1v1h-1zM306 533h1v1h-1zM310 533h1v1h-1zM314 532h1v1h-1zM318 532h1v1h-1zM322 532h1v1h-1zM326 531h1v1h-1zM330 531h1v1h-1zM334 530h1v1h-1zM338 529h1v1h-1zM342 529h1v1h-1zM346 528h1v1h-1zM350 527h1v1h-1zM353 526h1v1h-1zM357 525h1v1h-1zM361 524h1v1h-1zM365 523h1v1h-1zM369 521h1v1h-1zM372 520h1v1h-1zM376 519h1v1h-1zM380 517h1v1h-1zM384 516h1v1h-1zM387 514h1v1h-1zM391 512h1v1h-1zM395 511h1v1h-1zM398 509h1v1h-1zM402 507h1v1h-1zM405 505h1v1h-1zM409 503h1v1h-1zM412 501h1v1h-1zM415 499h1v1h-1zM419 497h1v1h-1zM422 494h1v1h-1zM425 492h1v1h-1zM429 490h1v1h-1zM432 487h1v1h-1zM435 485h1v1h-1zM438 482h1v1h-1zM441 480h1v1h-1zM444 477h1v1h-1zM447 474h1v1h-1zM450 472h1v1h-1zM453 469h1v1h-1zM456 466h1v1h-1zM458 463h1v1h-1zM461 460h1v1h-1zM464 457h1v1h-1zM466 454h1v1h-1zM469 451h1v1h-1zM471 448h1v1h-1zM474 445h1v1h-1zM476 441h1v1h-1zM478 438h1v1h-1zM481 435h1v1h-1zM483 431h1v1h-1zM485 428h1v1h-1zM487 425h1v1h-1zM489 421h1v1h-1zM491 418h1v1h-1zM493 414h1v1h-1zM495 411h1v1h-1zM496 407h1v1h-1zM498 403h1v1h-1zM500 400h1v1h-1zM501 396h1v1h-1zM503 392h1v1h-1zM504 388h1v1h-1zM505 385h1v1h-1zM507 381h1v1h-1zM508 377h1v1h-1zM509 373h1v1h-1zM510 369h1v1h-1zM511 366h1v1h-1zM512 362h1v1h-1zM513 358h1v1h-1zM513 354h1v1h-1zM514 350h1v1h-1zM515 346h1v1h-1zM515 342h1v1h-1zM516 338h1v1h-1zM516 334h1v1h-1zM516 330h1v1h-1zM517 326h1v1h-1zM517 322h1v1h-1zM517 318h1v1h-1z" fill="#606060" shape-rendering="crispEdges"/>
<rect x="298" y="63" width="1" height="503" fill="#000" shape-rendering="crispEdges"/>
<rect x="47" y="314" width="503" height="1" fill="#000" shape-rendering="crispEdges"/>
<g shape-rendering="crispEdges">
<path d="M228 315h5v1h-5zM230 313h1v5h-1z" fill="#48ffa2"/>
<path d="M248 382h5v1h-5zM250 380h1v5h-1z" fill="#48ffa2"/>
<path d="M322 287h5v1h-5zM324 285h1v5h-1z" fill="#18ffea"/>
<path d="M313 297h5v1h-5zM315 295h1v5h-1z" fill="#48ffa2"/>
<path d="M287 315h5v1h-5zM289 313h1v5h-1z" fill="#48ffa2"/>
<path d="M274 318h5v1h-5zM276 316h1v5h-1z" fill="#5eff7a"/>
<path d="M312 315h5v1h-5zM314 313h1v5h-1z" fill="#5eff7a"/>
<path d="M311 320h5v1h-5zM313 318h1v5h-1z" fill="#48ffa2"/>
<path d="M321 321h5v1h-5zM323 319h1v5h-1z" fill="#30ffca"/>
<path d="M301 323h5v1h-5zM303 321h1v5h-1z" fill="#5eff7a"/>
<path d="M284 325h5v1h-5zM286 323h1v5h-1z" fill="#5eff7a"/>
<path d="M315 329h5v1h-5zM317 327h1v5h-1z" fill="#48ffa2"/>
<path d="M309 333h5v1h-5zM311 331h1v5h-1z" fill="#5eff7a"/>
<path d="M322 335h5v1h-5zM324 333h1v5h-1z" fill="#48ffa2"/>
<path d="M289 342h5v1h-5zM291 340h1v5h-1z" fill="#48ffa2"/>
<path d="M282 346h5v1h-5zM284 344h1v5h-1z" fill="#5eff7a"/>
<path d="M298 347h5v1h-5zM300 345h1v5h-1z" fill="#5eff7a"/>
<path d="M302 350h5v1h-5zM304 348h1v5h-1z" fill="#5eff7a"/>
<path d="M319 353h5v1h-5zM321 351h1v5h-1z" fill="#5eff7a"/>
<path d="M287 362h5v1h-5zM289 360h1v5h-1z" fill="#30ffca"/>
<path d="M288 364h5v1h-5zM290 362h1v5h-1z" fill="#5eff7a"/>
<path d="M309 363h5v1h-5zM311 361h1v5h-1z" fill="#48ffa2"/>
<path d="M312 363h5v1h-5zM314 361h1v5h-1z" fill="#30ffca"/>
<path d="M307 365h5v1h-5zM309 363h1v5h-1z" fill="#18ffea"/>
<path d="M313 366h5v1h-5zM315 364h1v5h-1z" fill="#48ffa2"/>
<path d="M333 364h5v1h-5zM335 362h1v5h-1z" fill="#48ffa2"/>
<path d="M328 367h5v1h-5zM330 365h1v5h-1z" fill="#5eff7a"/>
<path d="M312 370h5v1h-5zM314 368h1v5h-1z" fill="#5eff7a"/>
<path d="M309 374h5v1h-5zM311 372h1v5h-1z" fill="#5eff7a"/>
<path d="M276 369h5v1h-5zM278 367h1v5h-1z" fill="#5eff7a"/>
<path d="M280 380h5v1h-5zM282 378h1v5h-1z" fill="#5eff7a"/>
<path d="M323 380h5v1h-5zM325 378h1v5h-1z" fill="#48ffa2"/>
<path d="M280 389h5v1h-5zM282 387h1v5h-1z" fill="#5eff7a"/>
<path d="M321 398h5v1h-5zM323 396h1v5h-1z" fill="#5eff7a"/>
<path d="M359 291h5v1h-5zM361 289h1v5h-1z" fill="#5eff7a"/>
<path d="M380 294h5v1h-5zM382 292h1v5h-1z" fill="#48ffa2"/>
<path d="M387 294h5v1h-5zM389 292h1v5h-1z" fill="#5eff7a"/>
<path d="M408 307h5v1h-5zM410 305h1v5h-1z" fill="#30ffca"/>
<path d="M347 314h5v1h-5zM349 312h1v5h-1z" fill="#18ffea"/>
<path d="M344 331h5v1h-5zM346 329h1v5h-1z" fill="#30ffca"/>
<path d="M362 329h5v1h-5zM364 327h1v5h-1z" fill="#5eff7a"/>
<path d="M387 327h5v1h-5zM389 325h1v5h-1z" fill="#5eff7a"/>
<path d="M371 335h5v1h-5zM373 333h1v5h-1z" fill="#5eff7a"/>
<path d="M409 332h5v1h-5zM411 330h1v5h-1z" fill="#48ffa2"/>
<path d="M414 336h5v1h-5zM416 334h1v5h-1z" fill="#48ffa2"/>
<path d="M383 339h5v1h-5zM385 337h1v5h-1z" fill="#30ffca"/>
<path d="M384 340h5v1h-5zM386 338h1v5h-1z" fill="#30ffca"/>
<path d="M373 342h5v1h-5zM375 340h1v5h-1z" fill="#30ffca"/>
<path d="M346 350h5v1h-5zM348 348h1v5h-1z" fill="#5eff7a"/>
<path d="M387 351h5v1h-5zM389 349h1v5h-1z" fill="#30ffca"/>
<path d="M365 352h5v1h-5zM367 350h1v5h-1z" fill="#5eff7a"/>
<path d="M418 352h5v1h-5zM420 350h1v5h-1z" fill="#48ffa2"/>
<path d="M339 355h5v1h-5zM341 353h1v5h-1z" fill="#30ffca"/>
<path d="M343 356h5v1h-5zM345 354h1v5h-1z" fill="#5eff7a"/>
<path d="M358 357h5v1h-5zM360 355h1v5h-1z" fill="#30ffca"/>
<path d="M402 357h5v1h-5zM404 355h1v5h-1z" fill="#48ffa2"/>
<path d="M423 358h5v1h-5zM425 356h1v5h-1z" fill="#18ffea"/>
<path d="M355 369h5v1h-5zM357 367h1v5h-1z" fill="#88fa5a"/>
<path d="M403 369h5v1h-5zM405 367h1v5h-1z" fill="#18ffea"/>
<path d="M340 378h5v1h-5zM342 376h1v5h-1z" fill="#5eff7a"/>
<path d="M395 386h5v1h-5zM397 384h1v5h-1z" fill="#30ffca"/>
<path d="M341 389h5v1h-5zM343 387h1v5h-1z" fill="#48ffa2"/>
<path d="M350 390h5v1h-5zM352 388h1v5h-1z" fill="#5eff7a"/>
<path d="M419 388h5v1h-5zM421 386h1v5h-1z" fill="#18ffea"/>
<path d="M402 392h5v1h-5zM404 390h1v5h-1z" fill="#18ffea"/>
<path d="M378 405h5v1h-5zM380 403h1v5h-1z" fill="#18ffea"/>
<path d="M433 334h5v1h-5zM435 332h1v5h-1z" fill="#48ffa2"/>
<path d="M438 392h5v1h-5zM440 390h1v5h-1z" fill="#18ffea"/>
<path d="M367 412h5v1h-5zM369 410h1v5h-1z" fill="#18ffea"/>
<path d="M391 411h5v1h-5zM393 409h1v5h-1z" fill="#18ffea"/>
<path d="M378 419h5v1h-5zM380 417h1v5h-1z" fill="#48ffa2"/>
<path d="M287 407h5v1h-5zM289 405h1v5h-1z" fill="#5eff7a"/>
<path d="M294 432h5v1h-5zM296 430h1v5h-1z" fill="#48ffa2"/>
<path d="M343 464h5v1h-5zM345 462h1v5h-1z" fill="#48ffa2"/>
</g>
<path d="M246.6 323.7h2.6q0.5 1.3 -1.9 2.9q-1.3 -1.2 -0.7 -2.9z" fill="none" stroke="#bcf52c" stroke-width="1.1" stroke-linejoin="round"/>
<path d="M254.6 324.7h2.6q0.5 1.3 -1.9 2.9q-1.3 -1.2 -0.7 -2.9z" fill="none" stroke="#88fa5a" stroke-width="1.1" stroke-linejoin="round"/>
<path d="M227.6 328.7h2.6q0.5 1.3 -1.9 2.9q-1.3 -1.2 -0.7 -2.9z" fill="none" stroke="#88fa5a" stroke-width="1.1" stroke-linejoin="round"/>
<path d="M240.6 330.7h2.6q0.5 1.3 -1.9 2.9q-1.3 -1.2 -0.7 -2.9z" fill="none" stroke="#88fa5a" stroke-width="1.1" stroke-linejoin="round"/>
<path d="M169.6 344.7h2.6q0.5 1.3 -1.9 2.9q-1.3 -1.2 -0.7 -2.9z" fill="none" stroke="#bcf52c" stroke-width="1.1" stroke-linejoin="round"/>
<path d="M192.6 345.7h2.6q0.5 1.3 -1.9 2.9q-1.3 -1.2 -0.7 -2.9z" fill="none" stroke="#bcf52c" stroke-width="1.1" stroke-linejoin="round"/>
<path d="M204.6 342.7h2.6q0.5 1.3 -1.9 2.9q-1.3 -1.2 -0.7 -2.9z" fill="none" stroke="#bcf52c" stroke-width="1.1" stroke-linejoin="round"/>
<path d="M212.6 346.7h2.6q0.5 1.3 -1.9 2.9q-1.3 -1.2 -0.7 -2.9z" fill="none" stroke="#bcf52c" stroke-width="1.1" stroke-linejoin="round"/>
<path d="M138.6 350.7h2.6q0.5 1.3 -1.9 2.9q-1.3 -1.2 -0.7 -2.9z" fill="none" stroke="#f0f000" stroke-width="1.1" stroke-linejoin="round"/>
<path d="M161.6 349.7h2.6q0.5 1.3 -1.9 2.9q-1.3 -1.2 -0.7 -2.9z" fill="none" stroke="#bcf52c" stroke-width="1.1" stroke-linejoin="round"/>
<path d="M156.6 353.7h2.6q0.5 1.3 -1.9 2.9q-1.3 -1.2 -0.7 -2.9z" fill="none" stroke="#f0f000" stroke-width="1.1" stroke-linejoin="round"/>
<path d="M150.6 360.7h2.6q0.5 1.3 -1.9 2.9q-1.3 -1.2 -0.7 -2.9z" fill="none" stroke="#f0f000" stroke-width="1.1" stroke-linejoin="round"/>
<path d="M207.6 354.7h2.6q0.5 1.3 -1.9 2.9q-1.3 -1.2 -0.7 -2.9z" fill="none" stroke="#bcf52c" stroke-width="1.1" stroke-linejoin="round"/>
<path d="M204.6 357.7h2.6q0.5 1.3 -1.9 2.9q-1.3 -1.2 -0.7 -2.9z" fill="none" stroke="#bcf52c" stroke-width="1.1" stroke-linejoin="round"/>
<path d="M217.6 360.7h2.6q0.5 1.3 -1.9 2.9q-1.3 -1.2 -0.7 -2.9z" fill="none" stroke="#88fa5a" stroke-width="1.1" stroke-linejoin="round"/>
<path d="M228.6 359.7h2.6q0.5 1.3 -1.9 2.9q-1.3 -1.2 -0.7 -2.9z" fill="none" stroke="#d2f222" stroke-width="1.1" stroke-linejoin="round"/>
<path d="M212.6 363.7h2.6q0.5 1.3 -1.9 2.9q-1.3 -1.2 -0.7 -2.9z" fill="none" stroke="#bcf52c" stroke-width="1.1" stroke-linejoin="round"/>
<path d="M218.6 369.7h2.6q0.5 1.3 -1.9 2.9q-1.3 -1.2 -0.7 -2.9z" fill="none" stroke="#f0f000" stroke-width="1.1" stroke-linejoin="round"/>
<path d="M176.6 367.7h2.6q0.5 1.3 -1.9 2.9q-1.3 -1.2 -0.7 -2.9z" fill="none" stroke="#bcf52c" stroke-width="1.1" stroke-linejoin="round"/>
<path d="M172.6 371.7h2.6q0.5 1.3 -1.9 2.9q-1.3 -1.2 -0.7 -2.9z" fill="none" stroke="#f0f000" stroke-width="1.1" stroke-linejoin="round"/>
<path d="M203.6 374.7h2.6q0.5 1.3 -1.9 2.9q-1.3 -1.2 -0.7 -2.9z" fill="none" stroke="#f0f000" stroke-width="1.1" stroke-linejoin="round"/>
<path d="M244.6 368.7h2.6q0.5 1.3 -1.9 2.9q-1.3 -1.2 -0.7 -2.9z" fill="none" stroke="#88fa5a" stroke-width="1.1" stroke-linejoin="round"/>
<path d="M251.6 366.7h2.6q0.5 1.3 -1.9 2.9q-1.3 -1.2 -0.7 -2.9z" fill="none" stroke="#88fa5a" stroke-width="1.1" stroke-linejoin="round"/>
<path d="M163.6 389.7h2.6q0.5 1.3 -1.9 2.9q-1.3 -1.2 -0.7 -2.9z" fill="none" stroke="#f0f000" stroke-width="1.1" stroke-linejoin="round"/>
<path d="M120.6 394.7h2.6q0.5 1.3 -1.9 2.9q-1.3 -1.2 -0.7 -2.9z" fill="none" stroke="#bcf52c" stroke-width="1.1" stroke-linejoin="round"/>
<path d="M174.6 396.7h2.6q0.5 1.3 -1.9 2.9q-1.3 -1.2 -0.7 -2.9z" fill="none" stroke="#f0f000" stroke-width="1.1" stroke-linejoin="round"/>
<path d="M186.6 401.7h2.6q0.5 1.3 -1.9 2.9q-1.3 -1.2 -0.7 -2.9z" fill="none" stroke="#bcf52c" stroke-width="1.1" stroke-linejoin="round"/>
<path d="M163.6 407.7h2.6q0.5 1.3 -1.9 2.9q-1.3 -1.2 -0.7 -2.9z" fill="none" stroke="#f0f000" stroke-width="1.1" stroke-linejoin="round"/>
<path d="M209.6 408.7h2.6q0.5 1.3 -1.9 2.9q-1.3 -1.2 -0.7 -2.9z" fill="none" stroke="#f0f000" stroke-width="1.1" stroke-linejoin="round"/>
<path d="M233.6 417.7h2.6q0.5 1.3 -1.9 2.9q-1.3 -1.2 -0.7 -2.9z" fill="none" stroke="#bcf52c" stroke-width="1.1" stroke-linejoin="round"/>
<path d="M158.6 427.7h2.6q0.5 1.3 -1.9 2.9q-1.3 -1.2 -0.7 -2.9z" fill="none" stroke="#bcf52c" stroke-width="1.1" stroke-linejoin="round"/>
<path d="M314.6 288.7h2.6q0.5 1.3 -1.9 2.9q-1.3 -1.2 -0.7 -2.9z" fill="none" stroke="#a2f844" stroke-width="1.1" stroke-linejoin="round"/>
<path d="M326.6 292.7h2.6q0.5 1.3 -1.9 2.9q-1.3 -1.2 -0.7 -2.9z" fill="none" stroke="#a2f844" stroke-width="1.1" stroke-linejoin="round"/>
<path d="M263.6 303.7h2.6q0.5 1.3 -1.9 2.9q-1.3 -1.2 -0.7 -2.9z" fill="none" stroke="#a2f844" stroke-width="1.1" stroke-linejoin="round"/>
<path d="M273.6 302.7h2.6q0.5 1.3 -1.9 2.9q-1.3 -1.2 -0.7 -2.9z" fill="none" stroke="#a2f844" stroke-width="1.1" stroke-linejoin="round"/>
<path d="M293.6 316.7h2.6q0.5 1.3 -1.9 2.9q-1.3 -1.2 -0.7 -2.9z" fill="none" stroke="#d2f222" stroke-width="1.1" stroke-linejoin="round"/>
<path d="M322.6 312.7h2.6q0.5 1.3 -1.9 2.9q-1.3 -1.2 -0.7 -2.9z" fill="none" stroke="#a2f844" stroke-width="1.1" stroke-linejoin="round"/>
<path d="M262.6 322.7h2.6q0.5 1.3 -1.9 2.9q-1.3 -1.2 -0.7 -2.9z" fill="none" stroke="#a2f844" stroke-width="1.1" stroke-linejoin="round"/>
<path d="M292.6 327.7h2.6q0.5 1.3 -1.9 2.9q-1.3 -1.2 -0.7 -2.9z" fill="none" stroke="#a2f844" stroke-width="1.1" stroke-linejoin="round"/>
<path d="M266.6 332.7h2.6q0.5 1.3 -1.9 2.9q-1.3 -1.2 -0.7 -2.9z" fill="none" stroke="#a2f844" stroke-width="1.1" stroke-linejoin="round"/>
<path d="M271.6 331.7h2.6q0.5 1.3 -1.9 2.9q-1.3 -1.2 -0.7 -2.9z" fill="none" stroke="#a2f844" stroke-width="1.1" stroke-linejoin="round"/>
<path d="M272.6 332.7h2.6q0.5 1.3 -1.9 2.9q-1.3 -1.2 -0.7 -2.9z" fill="none" stroke="#a2f844" stroke-width="1.1" stroke-linejoin="round"/>
<path d="M278.6 331.7h2.6q0.5 1.3 -1.9 2.9q-1.3 -1.2 -0.7 -2.9z" fill="none" stroke="#88fa5a" stroke-width="1.1" stroke-linejoin="round"/>
<path d="M306.6 332.7h2.6q0.5 1.3 -1.9 2.9q-1.3 -1.2 -0.7 -2.9z" fill="none" stroke="#a2f844" stroke-width="1.1" stroke-linejoin="round"/>
<path d="M278.6 336.7h2.6q0.5 1.3 -1.9 2.9q-1.3 -1.2 -0.7 -2.9z" fill="none" stroke="#d2f222" stroke-width="1.1" stroke-linejoin="round"/>
<path d="M269.6 343.7h2.6q0.5 1.3 -1.9 2.9q-1.3 -1.2 -0.7 -2.9z" fill="none" stroke="#a2f844" stroke-width="1.1" stroke-linejoin="round"/>
<path d="M277.6 342.7h2.6q0.5 1.3 -1.9 2.9q-1.3 -1.2 -0.7 -2.9z" fill="none" stroke="#a2f844" stroke-width="1.1" stroke-linejoin="round"/>
<path d="M297.6 343.7h2.6q0.5 1.3 -1.9 2.9q-1.3 -1.2 -0.7 -2.9z" fill="none" stroke="#88fa5a" stroke-width="1.1" stroke-linejoin="round"/>
<path d="M299.6 343.7h2.6q0.5 1.3 -1.9 2.9q-1.3 -1.2 -0.7 -2.9z" fill="none" stroke="#a2f844" stroke-width="1.1" stroke-linejoin="round"/>
<path d="M297.6 351.7h2.6q0.5 1.3 -1.9 2.9q-1.3 -1.2 -0.7 -2.9z" fill="none" stroke="#a2f844" stroke-width="1.1" stroke-linejoin="round"/>
<path d="M336.6 344.7h2.6q0.5 1.3 -1.9 2.9q-1.3 -1.2 -0.7 -2.9z" fill="none" stroke="#a2f844" stroke-width="1.1" stroke-linejoin="round"/>
<path d="M268.6 355.7h2.6q0.5 1.3 -1.9 2.9q-1.3 -1.2 -0.7 -2.9z" fill="none" stroke="#a2f844" stroke-width="1.1" stroke-linejoin="round"/>
<path d="M322.6 358.7h2.6q0.5 1.3 -1.9 2.9q-1.3 -1.2 -0.7 -2.9z" fill="none" stroke="#a2f844" stroke-width="1.1" stroke-linejoin="round"/>
<path d="M336.6 356.7h2.6q0.5 1.3 -1.9 2.9q-1.3 -1.2 -0.7 -2.9z" fill="none" stroke="#a2f844" stroke-width="1.1" stroke-linejoin="round"/>
<path d="M273.6 378.7h2.6q0.5 1.3 -1.9 2.9q-1.3 -1.2 -0.7 -2.9z" fill="none" stroke="#a2f844" stroke-width="1.1" stroke-linejoin="round"/>
<path d="M330.6 394.7h2.6q0.5 1.3 -1.9 2.9q-1.3 -1.2 -0.7 -2.9z" fill="none" stroke="#a2f844" stroke-width="1.1" stroke-linejoin="round"/>
<path d="M14.8 42.9 C9.5 33 10.5 21.5 18.5 15.5 C25 10.8 33.5 10.6 39.6 13.6 C32 11.8 25.3 13.6 20.6 18.4 C15.2 24 13.6 32.5 14.8 42.9 Z" fill="#2f96bf"/>
<text x="48.7" y="30.6" style="font-family:'Liberation Serif',serif;font-size:11.4px;fill:#3a2030;stroke:#3a2030;stroke-width:0.3px;letter-spacing:-0.25px">Lowell</text>
<text x="20" y="42.8" style="font-family:'Liberation Sans',sans-serif;font-size:10.3px;fill:#98245e;stroke:#98245e;stroke-width:0.4px;letter-spacing:0.24px">DIGISONDE</text>
<text class="hb" x="399.9" y="19">STATION NAME    YYYY DATE  DDD HHMMSS AXN PPS IGP</text>
<text class="hb" x="399.9" y="36">Jicamarca       2015 Aug05 217 205528 417  75 +8F</text>
<text class="tb" x="594.2" y="71">Num of Sources           134</text>
<text class="tb" x="594.2" y="85">Min Freq, kHz           2230</text>
<text class="tb" x="594.2" y="99">Max Freq, kHz           3000</text>
<text class="tb" x="594.2" y="113">Min Range, km            105</text>
<text class="tb" x="594.2" y="127">Max Range, km            125</text>
<text class="tb" x="594.2" y="141">Max Amp, dB               49</text>
<text class="tb" x="594.2" y="155">Max SNR Amp, dB           24</text>
<text class="tb" x="594.2" y="169">Min SNR Amp, dB           12</text>
<text class="tb" x="594.2" y="183">Avg SNR Amp, dB           16</text>
<text class="tb" x="594.2" y="197">Max RMS Err, deg        17.0</text>
<text class="tb" x="594.2" y="211">Min RMS Err, deg         0.0</text>
<text class="tb" x="594.2" y="225">Avg RMS Err, deg         4.4</text>
<text class="tb" x="594.2" y="239">Doppler Res, Hz       0.0723</text>
<text class="tb" x="594.2" y="253">CIT, sec               13.84</text>
<text class="tb" x="594.2" y="267">Num of CITs                2</text>
<text class="tb" x="594.2" y="281">Polarization          O-mode</text>
<text class="tb" x="594.2" y="295">Center of Sources, deg:     </text>
<text class="tb" x="594.2" y="309">          Zenith         6.5</text>
<text class="tb" x="594.2" y="323">          Azimuth        184</text>
<path d="M721.6 320.6 q0.5 -2.9 2.8 -2.7 q1.6 0.3 1.7 2.2 M720.4 318.9 l1.2 2 l2.2 -0.9" fill="none" stroke="#111" stroke-width="1"/>
<text class="cb" x="281.6" y="57">North</text>
<text class="cb" x="281.6" y="578">South</text>
<text class="cb" x="15.8" y="318">West</text>
<text class="cb" x="552.6" y="318">East</text>
<text class="it" x="12" y="592.5">Compass coordinates</text>
<text class="it" x="419" y="592.5">Zenith: max 40</text>
<text class="it" x="516.4" y="592.5">°</text>
<text class="it" x="535" y="592.5">step 5</text>
<text class="it" x="576.4" y="592.5">°</text>
<text class="sm" x="654.6" y="592.6" textLength="88.4" lengthAdjust="spacing">ShowSkymap v 1.0</text>
<text class="sm" x="753.8" y="592.6" textLength="38.6" lengthAdjust="spacing">SD v 4.2</text>
<rect x="593" y="341" width="15" height="242" fill="url(#cbar)" shape-rendering="crispEdges"/>
<rect x="608" y="341" width="1" height="242" fill="#000" shape-rendering="crispEdges"/>
<rect x="608" y="341" width="7" height="1" fill="#000" shape-rendering="crispEdges"/>
<text class="sb" transform="translate(617.6,345) scale(1.27,1)">4.6</text>
<rect x="608" y="357" width="7" height="1" fill="#000" shape-rendering="crispEdges"/>
<rect x="608" y="383" width="7" height="1" fill="#000" shape-rendering="crispEdges"/>
<text class="sb" transform="translate(617.6,387) scale(1.27,1)">3.0</text>
<rect x="608" y="409" width="7" height="1" fill="#000" shape-rendering="crispEdges"/>
<text class="sb" transform="translate(617.6,413) scale(1.27,1)">2.0</text>
<rect x="608" y="435" width="7" height="1" fill="#000" shape-rendering="crispEdges"/>
<text class="sb" transform="translate(617.6,439) scale(1.27,1)">1.0</text>
<rect x="608" y="461" width="7" height="1" fill="#000" shape-rendering="crispEdges"/>
<text class="sb" transform="translate(617.6,465) scale(1.27,1)">0</text>
<rect x="608" y="488" width="7" height="1" fill="#000" shape-rendering="crispEdges"/>
<text class="sb" transform="translate(617.6,492) scale(1.27,1)">-1.0</text>
<rect x="608" y="514" width="7" height="1" fill="#000" shape-rendering="crispEdges"/>
<text class="sb" transform="translate(617.6,518) scale(1.27,1)">-2.0</text>
<rect x="608" y="540" width="7" height="1" fill="#000" shape-rendering="crispEdges"/>
<text class="sb" transform="translate(617.6,544) scale(1.27,1)">-3.0</text>
<rect x="608" y="566" width="7" height="1" fill="#000" shape-rendering="crispEdges"/>
<rect x="608" y="582" width="7" height="1" fill="#000" shape-rendering="crispEdges"/>
<text class="sb" transform="translate(617.6,586) scale(1.27,1)">-4.6</text>
<text class="dp" transform="translate(657,491.8) rotate(-90)" textLength="53" lengthAdjust="spacingAndGlyphs">Doppler, Hz</text>
<path d="M669 402h8v1h-8zM672 399h1v7h-1z" fill="#0000ee" shape-rendering="crispEdges"/>
<text class="lg" x="682.2" y="406" fill="#0000ee" textLength="45" lengthAdjust="spacingAndGlyphs">Positive</text>
<path d="M670.5 522.2q0.1 -1.9 2.6 -1.9q2.5 0 2.5 1.9q-0.2 2 -3 3.3q-2.1 -1.2 -2.1 -3.3z" fill="none" stroke="#ea0000" stroke-width="1.15" stroke-linejoin="round"/>
<text class="lg" x="682.2" y="526" fill="#ea0000" textLength="51" lengthAdjust="spacingAndGlyphs">Negative</text>
</svg></body></html>
